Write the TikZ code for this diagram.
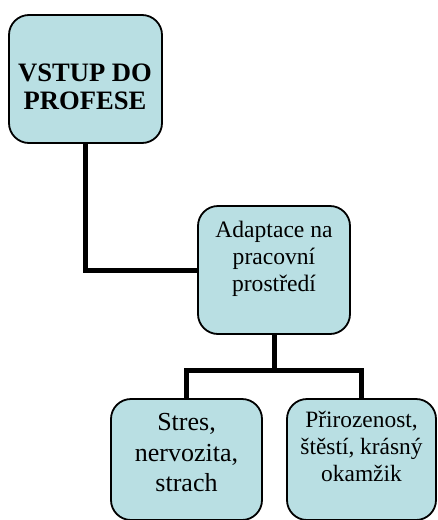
\documentclass[tikz,border=0pt]{standalone}
\usepackage{fontspec}
\setmainfont{Liberation Serif}
\usetikzlibrary{backgrounds}
\definecolor{boxfill}{HTML}{B9DFE3}
\begin{document}
\begin{tikzpicture}[x=1pt,y=-1pt,
  box/.style={draw=black, line width=1.8pt, fill=boxfill, rounded corners=20pt,
    inner sep=0pt, minimum width=#1},
  link/.style={draw=black, line width=5pt},
  label/.style={align=center, inner sep=0pt, anchor=base}]
  \useasboundingbox (0,0) rectangle (437,520);

  % boxes
  \node[box=153pt, minimum height=128pt] (entry) at (85.5,79) {};
  \node[box=152pt, minimum height=128pt] (adapt) at (274,270) {};
  \node[box=151pt, minimum height=121pt] (stress) at (186.5,459.5) {};
  \node[box=149pt, minimum height=121pt] (ease) at (361.5,459.5) {};

  % connectors, behind the boxes
  \begin{scope}[on background layer]
    \draw[link] (entry.south) |- (adapt.west);
    \coordinate (split) at ([yshift=-36pt]adapt.south);
    \draw[link] (adapt.south) -- (split);
    \draw[link] (stress.north) |- (split) -| (ease.north);
  \end{scope}

  % texts (anchored at the baseline of the last line)
  \node[label, font=\fontsize{26.6}{28.5}\selectfont\bfseries] (entryT) at (85,109.5)
    {VSTUP DO\\PROFESE};
  \node[label, font=\fontsize{23.6}{27.2}\selectfont] (adaptT) at (274,291.7)
    {Adaptace na\\pracovní\\prostředí};
  \node[label, font=\fontsize{26}{30.5}\selectfont] (stressT) at (186.5,491.7)
    {Stres,\\nervozita,\\strach};
  \node[label, font=\fontsize{23.4}{27}\selectfont] (easeT) at (361.5,481.7)
    {Přirozenost,\\štěstí, krásný\\okamžik};
\end{tikzpicture}
\end{document}
